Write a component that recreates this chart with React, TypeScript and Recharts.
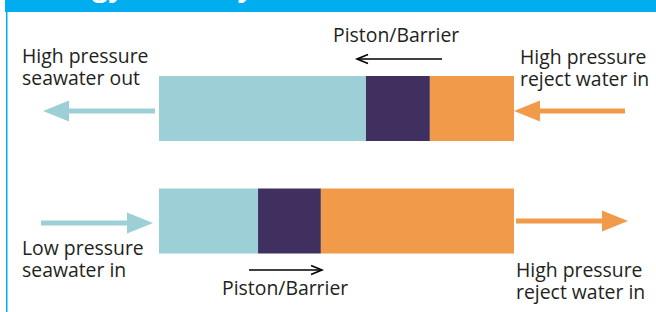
import React from 'react';
import { BarChart, Bar, XAxis, YAxis } from 'recharts';

// share of the cylinder length (%) taken by each part, per stroke
const strokes = ['Pressurising stroke', 'Filling stroke'];
const seawater = [58.3, 27.9];
const piston = [18.0, 17.7];
const reject = [23.7, 54.4];

const TEAL = '#9cd0d6';
const PURPLE = '#3f3060';
const ORANGE = '#f09a4a';
const INK = '#231f20';
const FONT = '"Open Sans", sans-serif';
const FS = 19.4;

const data = strokes.map((s, i) => ({
  stroke: s,
  seawater: seawater[i],
  piston: piston[i],
  reject: reject[i],
}));

// thick block arrow, tip at (x2, y)
function BlockArrow({ x1, x2, y, color }: { x1: number; x2: number; y: number; color: string }) {
  const dir = x2 > x1 ? 1 : -1;
  const headLen = 26;
  const base = x2 - dir * headLen;
  return (
    <g>
      <rect x={Math.min(x1, base)} y={y - 2.5} width={Math.abs(base - x1)} height={5} fill={color} />
      <polygon points={`${x2},${y} ${base},${y - 10.5} ${base},${y + 10.5}`} fill={color} />
    </g>
  );
}

function ThinArrow({ x1, x2, y }: { x1: number; x2: number; y: number }) {
  const dir = x2 > x1 ? 1 : -1;
  return (
    <g stroke="#000" strokeWidth={1.6} fill="none">
      <line x1={x1} y1={y} x2={x2} y2={y} />
      <polyline points={`${x2 - dir * 11},${y - 4.5} ${x2},${y} ${x2 - dir * 11},${y + 4.5}`} />
    </g>
  );
}

function Label({ x, y, lines }: { x: number; y: number; lines: string[] }) {
  return (
    <text x={x} y={y} fontFamily={FONT} fontSize={FS} fill={INK}>
      {lines.map((l, i) => (
        <tspan key={l} x={x} dy={i === 0 ? 0 : 22}>
          {l}
        </tspan>
      ))}
    </text>
  );
}

export default function App() {
  return (
    <div style={{ position: 'absolute', left: 0, top: 0, width: 656, height: 312, background: '#fff', overflow: 'hidden' }}>
      <BarChart
        width={656}
        height={312}
        data={data}
        layout="vertical"
        margin={{ top: 52, right: 142, bottom: 35, left: 159 }}
        barCategoryGap={0}
      >
        <XAxis type="number" domain={[0, 100]} hide />
        <YAxis type="category" dataKey="stroke" hide />
        <Bar dataKey="seawater" stackId="a" fill={TEAL} barSize={65} isAnimationActive={false} />
        <Bar dataKey="piston" stackId="a" fill={PURPLE} barSize={65} isAnimationActive={false} />
        <Bar dataKey="reject" stackId="a" fill={ORANGE} barSize={65} isAnimationActive={false} />
      </BarChart>
      <svg width={656} height={312} style={{ position: 'absolute', left: 0, top: 0, pointerEvents: 'none' }}>
        <rect x={5} y={0} width={651} height={12} fill="#00aeef" />
        {/* title sits above the crop, only its descenders show */}
        <text x={29} y={-4} fontFamily={FONT} fontWeight={700} fontSize={28} fill="#fff">
          Energy recovery
        </text>
        <rect x={6} y={12} width={1.5} height={300} fill="#00aeef" />

        <text x={333} y={42} fontFamily={FONT} fontSize={FS} fill={INK}>Piston/Barrier</text>
        <ThinArrow x1={442} x2={357} y={59} />
        <text x={222} y={295} fontFamily={FONT} fontSize={FS} fill={INK}>Piston/Barrier</text>
        <ThinArrow x1={249} x2={322} y={270} />

        <Label x={22} y={63} lines={['High pressure', 'seawater out']} />
        <Label x={520} y={64} lines={['High pressure', 'reject water in']} />
        <Label x={22} y={255} lines={['Low pressure', 'seawater in']} />
        <Label x={516} y={277} lines={['High pressure', 'reject water in']} />

        <BlockArrow x1={155} x2={43} y={111} color={TEAL} />
        <BlockArrow x1={625} x2={514} y={111} color={ORANGE} />
        <BlockArrow x1={41} x2={153} y={223} color={TEAL} />
        <BlockArrow x1={516} x2={628} y={221} color={ORANGE} />
      </svg>
    </div>
  );
}
